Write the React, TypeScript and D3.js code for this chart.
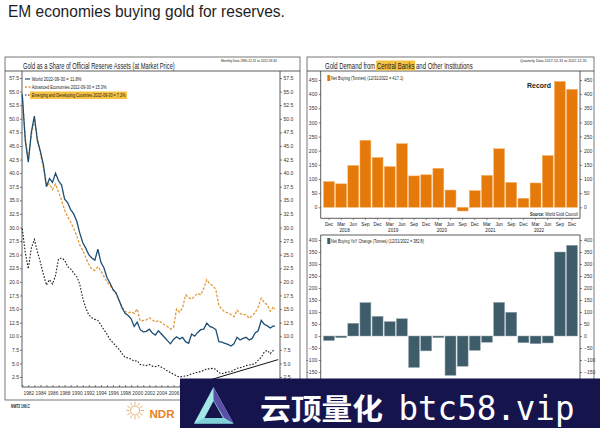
import React, { useEffect, useRef } from 'react';
import * as d3 from 'd3';

const NARROW = '"Liberation Sans Narrow", "Liberation Sans", Arial, sans-serif';
const SANS = '"Liberation Sans", Arial, sans-serif';

// gold share of official reserves, half-yearly readings 1981 .. 2022-09
const shareDates = d3.range(1981, 2023, 0.5).concat([2022.75]);
const worldShare = [
  54.5, 46.0, 42.0, 47.5, 50.5, 46.0, 44.0, 41.5, 37.5, 39.0,
  38.3, 40.0, 38.6, 37.8, 35.2, 34.6, 33.3, 32.5, 31.2, 29.0,
  27.2, 26.2, 25.0, 24.4, 24.0, 26.0, 23.6, 22.6, 20.8, 19.8,
  18.6, 18.0, 16.6, 15.2, 14.2, 13.8, 13.2, 11.8, 12.6, 11.2,
  10.8, 10.9, 11.3, 10.6, 10.2, 11.0, 10.4, 9.8, 9.2, 8.6,
  9.4, 9.9, 9.5, 9.8, 9.0, 8.7, 10.4, 10.0, 10.7, 11.2,
  11.3, 12.4, 11.8, 11.6, 11.2, 9.0, 8.9, 8.7, 8.5, 8.2,
  8.6, 9.8, 9.3, 9.6, 9.8, 9.3, 9.6, 10.6, 11.0, 12.9,
  12.2, 11.9, 11.5, 11.9, 11.8,
];
const advancedShare = [
  54.0, 46.5, 42.5, 47.0, 50.0, 46.5, 43.5, 41.0, 37.8, 38.0,
  37.0, 38.0, 36.5, 35.0, 33.2, 32.0, 31.0, 29.8, 28.5, 26.8,
  25.8, 24.5, 23.2, 22.3, 22.1, 22.8, 22.0, 21.0, 20.0, 19.4,
  18.5, 17.8, 16.6, 15.4, 14.6, 14.3, 14.5, 14.2, 15.0, 12.8,
  12.9, 13.0, 13.4, 13.0, 12.6, 12.9, 12.5, 12.1, 11.8, 11.3,
  11.6, 15.0, 14.4, 15.2, 17.6, 17.1, 16.8, 17.4, 17.9, 17.6,
  18.8, 20.4, 19.6, 19.3, 18.6, 15.6, 15.0, 14.4, 14.3, 14.0,
  13.6, 14.8, 14.2, 13.9, 14.0, 13.3, 13.8, 14.3, 15.4, 17.0,
  16.2, 15.8, 14.6, 15.4, 15.0,
];
const emergingShare = [
  29.8, 25.4, 22.4, 26.2, 27.8, 25.6, 23.6, 21.4, 19.4, 20.4,
  19.6, 21.2, 24.2, 24.4, 24.0, 22.8, 22.4, 21.6, 21.0, 19.6,
  17.0, 15.2, 13.9, 13.4, 13.1, 12.9, 12.1, 11.2, 10.4, 9.4,
  8.8, 8.2, 7.6, 6.8, 6.1, 6.0, 5.8, 5.4, 5.5, 4.8,
  4.7, 4.6, 4.8, 4.5, 4.4, 4.6, 4.3, 4.0, 3.6, 3.3,
  3.0, 2.7, 2.5, 2.6, 2.7, 2.8, 3.1, 3.2, 3.4, 3.5,
  3.7, 4.0, 4.0, 4.1, 3.9, 3.3, 3.1, 3.3, 3.4, 3.5,
  3.8, 4.1, 4.2, 4.4, 4.6, 4.7, 4.8, 5.0, 5.6, 6.1,
  7.1, 7.4, 6.8, 7.4, 7.2,
];
// hand drawn trend line under the EM series
const trendDates = [2008.5, 2023.3];
const trendValues = [0.8, 5.7];
const shareTicks = d3.range(2.5, 58, 2.5);
const shareYears = d3.range(1981, 2023);
// only these year labels are left visible under the banner
const shownYearLabels = d3.range(1982, 2007, 2);

// central bank demand, quarterly Dec 2017 .. Dec 2022
const quarters = ['Dec', 'Mar', 'Jun', 'Sep', 'Dec', 'Mar', 'Jun', 'Sep', 'Dec', 'Mar', 'Jun',
  'Sep', 'Dec', 'Mar', 'Jun', 'Sep', 'Dec', 'Mar', 'Jun', 'Sep', 'Dec'];
const quarterYears = ['2017', '2018', '2018', '2018', '2018', '2019', '2019', '2019', '2019', '2020', '2020',
  '2020', '2020', '2021', '2021', '2021', '2021', '2022', '2022', '2022', '2022'];
const netBuying = [91, 83, 148, 237, 176, 144, 225, 111, 115, 138, 61,
  -13, 59, 113, 207, 88, 32, 86, 183, 445, 417];
const yoyChange = [-19, -7, 53, 139, 82, 60, 72, -131, -62, -7, -164,
  -126, -60, -26, 140, 99, -28, -32, -29, 350, 378];
const buyingTicks = d3.range(0, 451, 50);
const yoyTicks = d3.range(-200, 401, 50);

type Sel = d3.Selection<any, unknown, null, undefined>;

// squeeze a text horizontally so it spans `width` px from its anchor
function fit(t: Sel, x: number, y: number, width: number) {
  const len = (t.node() as SVGTextElement).getComputedTextLength();
  const k = len > 0 ? width / len : 1;
  t.attr('x', 0).attr('y', 0).attr('transform', `translate(${x},${y}) scale(${k},1)`);
  return k;
}

function label(g: Sel, x: number, y: number, s: string, o: any = {}) {
  const t = g.append('text')
    .attr('x', x).attr('y', y)
    .attr('font-family', o.family || NARROW)
    .attr('font-size', o.size || 5)
    .attr('fill', o.fill || '#222')
    .attr('text-anchor', o.anchor || 'start')
    .text(s);
  if (o.weight) t.attr('font-weight', o.weight);
  if (o.width) fit(t, x, y, o.width);
  return t;
}

function line(g: Sel, x1: number, y1: number, x2: number, y2: number, stroke = '#333', w = 0.8) {
  return g.append('line').attr('x1', x1).attr('y1', y1).attr('x2', x2).attr('y2', y2)
    .attr('stroke', stroke).attr('stroke-width', w);
}

function styleAxis(a: Sel, size = 5) {
  a.select('.domain').remove();
  a.attr('font-size', size).attr('font-family', NARROW);
  a.selectAll('line').attr('stroke', '#333').attr('stroke-width', 0.6);
  a.selectAll('text').attr('fill', '#333');
}

function drawHeader(svg: Sel) {
  label(svg, 8, 17, 'EM economies buying gold for reserves.',
    { family: SANS, size: 16.5, fill: '#1e1e1e', width: 277 });
}

function drawShare(svg: Sel) {
  const g = svg.append('g');
  const left = 22, right = 280, top = 71, bottom = 387;

  g.append('rect').attr('x', 5).attr('y', 57).attr('width', 295).attr('height', 343)
    .attr('fill', 'none').attr('stroke', '#555').attr('stroke-width', 0.8);
  line(g, 5, top, 300, top);
  line(g, left, top, left, bottom);
  line(g, right, top, right, bottom);
  line(g, left, bottom, right, bottom);

  label(g, 23, 68.5, 'Gold as a Share of Official Reserve Assets (at Market Price)', { size: 8.5, width: 152 });
  label(g, 221, 62, 'Monthly Data 1980-12-31 to 2022-09-30', { size: 4, width: 56 });

  const x = d3.scaleLinear().domain([1982, 2022]).range([28.3, 270.3]);
  const y = d3.scaleLinear().domain([2.5, 57.5]).range([377, 78]);
  const fmt = d3.format('.1f');

  const la = g.append('g').attr('transform', `translate(${left},0)`)
    .call(d3.axisLeft(y).tickValues(shareTicks).tickFormat((d: any) => fmt(d)).tickSize(2).tickPadding(1));
  styleAxis(la);
  const ra = g.append('g').attr('transform', `translate(${right},0)`)
    .call(d3.axisRight(y).tickValues(shareTicks).tickFormat((d: any) => fmt(d)).tickSize(2).tickPadding(1.5));
  styleAxis(ra);
  const ba = g.append('g').attr('transform', `translate(0,${bottom})`)
    .call(d3.axisBottom(x).tickValues(shareYears)
      .tickFormat((d: any) => (shownYearLabels.includes(d) ? String(d) : '')).tickSize(-2).tickPadding(4.5));
  styleAxis(ba, 4.8);

  const path = (vals: number[]) => d3.line<number>()
    .x((_, i) => x(shareDates[i]))
    .y((v) => y(v))(vals);

  g.append('path').attr('d', path(emergingShare)).attr('fill', 'none')
    .attr('stroke', '#1a1a1a').attr('stroke-width', 1.1).attr('stroke-dasharray', '1.6,1.6');
  g.append('path').attr('d', path(advancedShare)).attr('fill', 'none')
    .attr('stroke', '#E39A3B').attr('stroke-width', 1.3).attr('stroke-dasharray', '2.6,1.6');
  g.append('path').attr('d', path(worldShare)).attr('fill', 'none')
    .attr('stroke', '#1d4e74').attr('stroke-width', 1.3);

  g.append('path')
    .attr('d', d3.line<number>().x((d) => x(d)).y((_, i) => y(trendValues[i]))(trendDates))
    .attr('fill', 'none').attr('stroke', '#111').attr('stroke-width', 1);

  // legend
  line(g, 25, 79, 30, 79, '#1d4e74', 1.2);
  label(g, 31.7, 81, 'World 2022-09-30 = 11.8%', { size: 5.5, width: 50 });
  line(g, 25, 87, 30.5, 87, '#E39A3B', 1.3).attr('stroke-dasharray', '2,1.5');
  label(g, 31.7, 89, 'Advanced Economies 2022-09-30 = 15.3%', { size: 5.5, width: 75 });
  g.append('rect').attr('x', 30).attr('y', 91.5).attr('width', 97).attr('height', 7.5).attr('fill', '#F5C242');
  line(g, 25, 95, 30, 95, '#1a1a1a', 1.1).attr('stroke-dasharray', '1.5,1.5');
  label(g, 31.7, 97, 'Emerging and Developing Countries 2022-09-30 = 7.2%', { size: 5.5, width: 94 });
}

function bars(g: Sel, x: d3.ScaleBand<number>, y: d3.ScaleLinear<number, number>, vals: number[], fill: string, edge: string) {
  g.append('g').selectAll('rect').data(vals).join('rect')
    .attr('x', (_, i) => x(i) as number)
    .attr('width', x.bandwidth())
    .attr('y', (v) => Math.min(y(v), y(0)))
    .attr('height', (v) => Math.abs(y(v) - y(0)))
    .attr('fill', fill).attr('stroke', edge).attr('stroke-width', 0.5);
}

function drawDemand(svg: Sel) {
  const g = svg.append('g');
  const left = 320.7, right = 580;

  g.append('rect').attr('x', 307).attr('y', 57).attr('width', 287).attr('height', 390)
    .attr('fill', 'none').attr('stroke', '#555').attr('stroke-width', 0.8);
  line(g, 307, 71, 594, 71);

  // title, with "Central Banks" highlighted behind the glyphs
  const hl = g.append('rect').attr('y', 60.5).attr('height', 10).attr('fill', '#F5C242');
  const title = 'Gold Demand from Central Banks and Other Institutions';
  const tt = g.append('text').attr('font-family', NARROW).attr('font-size', 8.5).attr('fill', '#222').text(title);
  const k = fit(tt, 325, 68.5, 148);
  const start = title.indexOf('Central Banks');
  try {
    const node = tt.node() as SVGTextElement;
    const x0 = node.getStartPositionOfChar(start).x * k + 325;
    const x1 = node.getEndPositionOfChar(start + 12).x * k + 325;
    hl.attr('x', x0 - 0.8).attr('width', x1 - x0 + 1.6);
  } catch (e) {
    hl.attr('x', 376).attr('width', 37.5);
  }
  label(g, 520, 62, 'Quarterly Data 2017-12-31 to 2022-12-31', { size: 4, width: 67 });

  const x = d3.scaleBand<number>().domain(d3.range(quarters.length)).range([323.5, 577.5]).paddingInner(0.1);
  const cx = (i: number) => (x(i) as number) + x.bandwidth() / 2;

  // top: net buying
  const tTop = 71, tBottom = 218.3;
  const yT = d3.scaleLinear().domain([0, 450]).range([207.3, 80]);
  line(g, left, tTop, left, tBottom);
  line(g, right, tTop, right, tBottom);
  line(g, left, tBottom, right, tBottom);
  bars(g, x, yT, netBuying, '#E57A0A', '#F6B36A');
  styleAxis(g.append('g').attr('transform', `translate(${left},0)`)
    .call(d3.axisLeft(yT).tickValues(buyingTicks).tickSize(2).tickPadding(1.5)));
  styleAxis(g.append('g').attr('transform', `translate(${right},0)`)
    .call(d3.axisRight(yT).tickValues(buyingTicks).tickSize(2).tickPadding(2)));

  g.append('rect').attr('x', 327.3).attr('y', 75).attr('width', 3).attr('height', 6).attr('fill', '#E57A0A');
  label(g, 331, 80, 'Net Buying (Tonnes) (12/31/2022 = 417.1)', { size: 5, width: 72.5 });
  label(g, 527, 88, 'Record', { family: SANS, size: 8, weight: 'bold', width: 24 });
  const src = g.append('text').attr('font-family', NARROW).attr('font-size', 4.5).attr('fill', '#222');
  src.append('tspan').attr('font-weight', 'bold').text('Source:');
  src.append('tspan').text(' World Gold Council');
  fit(src, 530, 215.5, 48);

  quarters.forEach((q, i) => {
    line(g, cx(i), tBottom, cx(i), tBottom + 1.8, '#333', 0.5);
    label(g, cx(i), 225.5, q, { size: 4.6, anchor: 'middle' });
    if (q === 'Mar') label(g, cx(i) + 3.5, 231.5, quarterYears[i], { size: 4.6, anchor: 'middle' });
  });

  // bottom: year-over-year change (its date axis sits under the banner)
  const bTop = 235, bBottom = 392;
  const yB = d3.scaleLinear().domain([0, 400]).range([336, 240]);
  line(g, left, bTop, right, bTop);
  line(g, left, bTop, left, bBottom);
  line(g, right, bTop, right, bBottom);
  line(g, left, bBottom, right, bBottom);
  bars(g, x, yB, yoyChange, '#3E5C69', '#93A6AE');
  styleAxis(g.append('g').attr('transform', `translate(${left},0)`)
    .call(d3.axisLeft(yB).tickValues(yoyTicks).tickSize(2).tickPadding(1.5)));
  styleAxis(g.append('g').attr('transform', `translate(${right},0)`)
    .call(d3.axisRight(yB).tickValues(yoyTicks).tickSize(2).tickPadding(2)));
  g.append('rect').attr('x', 327.3).attr('y', 238).attr('width', 3).attr('height', 6).attr('fill', '#3E5C69');
  label(g, 331, 243, 'Net Buying YoY Change (Tonnes) (12/31/2022 = 382.8)', { size: 5, width: 93 });
}

function drawFooter(svg: Sel) {
  const g = svg.append('g');
  label(g, 11, 408, 'NW72 166.C', { size: 4.5, weight: 'bold', width: 19 });

  // NDR mark
  const sun = g.append('g').attr('transform', 'translate(135,410.5)');
  sun.append('circle').attr('r', 4.5).attr('fill', 'none').attr('stroke', '#E3A766').attr('stroke-width', 0.9);
  d3.range(0, 360, 30).forEach((a) => {
    const r = (a * Math.PI) / 180;
    sun.append('line').attr('x1', Math.cos(r) * 5.5).attr('y1', Math.sin(r) * 5.5)
      .attr('x2', Math.cos(r) * 9).attr('y2', Math.sin(r) * 9)
      .attr('stroke', '#E3A766').attr('stroke-width', 0.8);
  });
  label(g, 149.5, 417.5, 'NDR', { family: SANS, size: 10.5, weight: 'bold', fill: '#E8821E', width: 25 });

  // watermark banner
  const w = svg.append('g');
  w.append('rect').attr('x', 180).attr('y', 378.5).attr('width', 420).attr('height', 50).attr('fill', '#16144d');
  w.append('polygon').attr('points', '213.5,387 194,423.5 233.5,423.5').attr('fill', '#a3e6e8');
  w.append('polygon').attr('points', '213.5,387 233.5,423.5 224,418 213.5,400').attr('fill', '#5a4ea6');
  w.append('polygon').attr('points', '213.5,401 204.5,418 223,418').attr('fill', '#16144d');
  w.append('polygon').attr('points', '194,423.5 233.5,423.5 224,418 204.5,418').attr('fill', '#7fd3d8');
  label(w, 260, 420, '云顶量化', {
    family: '"Noto Sans CJK SC", sans-serif', size: 29, weight: 'bold', fill: '#fff', width: 123,
  });
  label(w, 398.5, 420, 'btc58.vip', {
    family: '"DejaVu Sans Mono", monospace', size: 33, fill: '#fff', width: 176,
  });
}

export default function App() {
  const ref = useRef<SVGSVGElement>(null);

  useEffect(() => {
    const svg = d3.select(ref.current) as Sel;
    svg.selectAll('*').remove();
    drawHeader(svg);
    drawShare(svg);
    drawDemand(svg);
    drawFooter(svg);
  }, []);

  return (
    <div style={{ position: 'absolute', left: 0, top: 0 }}>
      <svg ref={ref} width={600} height={428} style={{ display: 'block', background: '#fff' }} />
    </div>
  );
}
